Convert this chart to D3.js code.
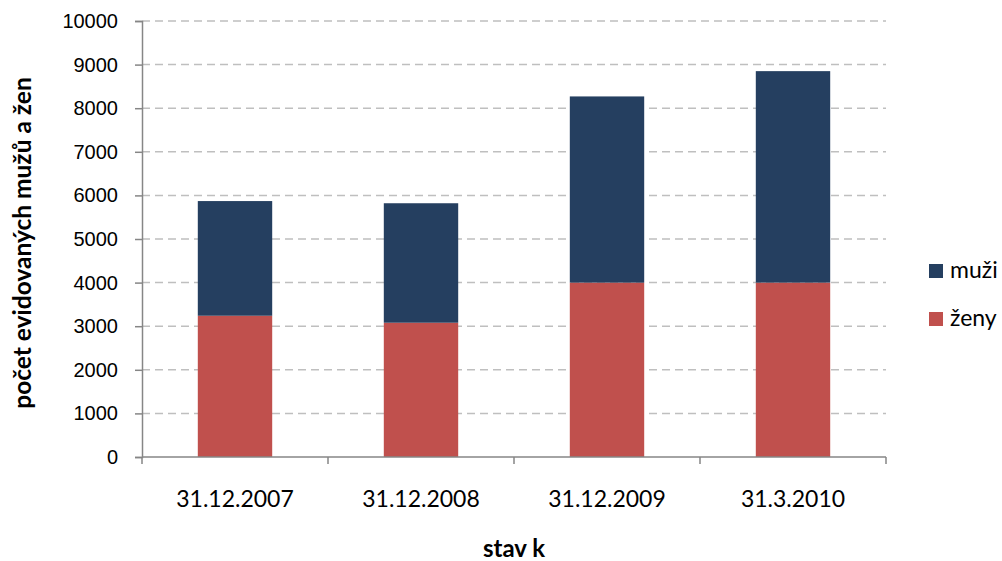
<!DOCTYPE html>
<html>
<head>
<meta charset="utf-8">
<script src="https://cdn.jsdelivr.net/npm/d3@7"></script>
<style>
  body { margin: 0; background: #fff; }
  svg { display: block; font-family: Lato, "Open Sans", sans-serif; }
</style>
</head>
<body>
<svg id="chart" width="1002" height="561"></svg>
<script>
// data
var dates = ["31.12.2007", "31.12.2008", "31.12.2009", "31.3.2010"];
var zeny = [3240, 3080, 4000, 4000];
var muzi = [2630, 2740, 4270, 4850];
var yTicks = [0, 1000, 2000, 3000, 4000, 5000, 6000, 7000, 8000, 9000, 10000];

var seriesNames = ["zeny", "muzi"];
var colors = { zeny: "#c0504d", muzi: "#253f60" };

var rows = dates.map(function (d, i) {
    return { date: d, zeny: zeny[i], muzi: muzi[i] };
});

var svg = d3.select("#chart");
var plotLeft = 142, plotRight = 886, plotTop = 21, plotBottom = 457;

var x = d3.scaleBand().domain(dates).range([plotLeft, plotRight]).paddingInner(0.6).paddingOuter(0.3);
var y = d3.scaleLinear().domain([0, 10000]).range([plotBottom, plotTop]);

// dashed grid
svg.append("g")
    .selectAll("line")
    .data(yTicks.filter(function (t) { return t > 0; }))
    .join("line")
    .attr("x1", plotLeft).attr("x2", plotRight)
    .attr("y1", function (d) { return y(d); })
    .attr("y2", function (d) { return y(d); })
    .attr("stroke", "#bfbfbf")
    .attr("stroke-width", 1.5)
    .attr("stroke-dasharray", "8,5");

// stacked bars
var stacked = d3.stack().keys(seriesNames)(rows);
svg.append("g")
    .selectAll("g")
    .data(stacked)
    .join("g")
    .attr("fill", function (s) { return colors[s.key]; })
    .selectAll("rect")
    .data(function (s) { return s; })
    .join("rect")
    .attr("x", function (d) { return x(d.data.date); })
    .attr("width", x.bandwidth())
    .attr("y", function (d) { return y(d[1]); })
    .attr("height", function (d) { return y(d[0]) - y(d[1]); });

// y axis
var yAxis = svg.append("g")
    .attr("transform", "translate(" + plotLeft + ",0)")
    .call(d3.axisLeft(y).tickValues(yTicks).tickFormat(d3.format("d")).tickSize(7).tickPadding(17));
yAxis.select(".domain").attr("stroke", "#868686").attr("stroke-width", 1.5);
yAxis.selectAll(".tick line").attr("stroke", "#868686").attr("stroke-width", 1.5);
yAxis.selectAll("text").attr("font-size", 20).attr("fill", "#000");

// x axis with ticks between categories
var xAxis = svg.append("g").attr("transform", "translate(0," + plotBottom + ")");
xAxis.append("line")
    .attr("x1", plotLeft).attr("x2", plotRight)
    .attr("stroke", "#868686").attr("stroke-width", 1.5);
var bounds = d3.range(dates.length + 1).map(function (i) {
    return plotLeft + i * (plotRight - plotLeft) / dates.length;
});
xAxis.selectAll(".sep")
    .data(bounds)
    .join("line")
    .attr("class", "sep")
    .attr("x1", function (d) { return d; }).attr("x2", function (d) { return d; })
    .attr("y1", 0).attr("y2", 7)
    .attr("stroke", "#868686").attr("stroke-width", 1.5);
xAxis.selectAll(".lbl")
    .data(dates)
    .join("text")
    .attr("class", "lbl")
    .attr("x", function (d) { return x(d) + x.bandwidth() / 2; })
    .attr("y", 50)
    .attr("text-anchor", "middle")
    .attr("font-size", 23)
    .text(function (d) { return d; });

// axis titles
svg.append("text")
    .attr("x", 514).attr("y", 557)
    .attr("text-anchor", "middle")
    .attr("font-size", 24)
    .attr("font-weight", "bold")
    .text("stav k");

svg.append("text")
    .attr("transform", "translate(31,243) rotate(-90)")
    .attr("text-anchor", "middle")
    .attr("font-size", 24.5)
    .attr("font-weight", "bold")
    .text("počet evidovaných mužů a žen");

// legend
var legendItems = [
    { key: "muzi", label: "muži", y: 264 },
    { key: "zeny", label: "ženy", y: 312 }
];
var legend = svg.append("g").selectAll("g").data(legendItems).join("g");
legend.append("rect")
    .attr("x", 929).attr("y", function (d) { return d.y; })
    .attr("width", 14).attr("height", 14)
    .attr("fill", function (d) { return colors[d.key]; });
legend.append("text")
    .attr("x", 950).attr("y", function (d) { return d.y + 14; })
    .attr("font-size", 23)
    .text(function (d) { return d.label; });
</script>
</body>
</html>
